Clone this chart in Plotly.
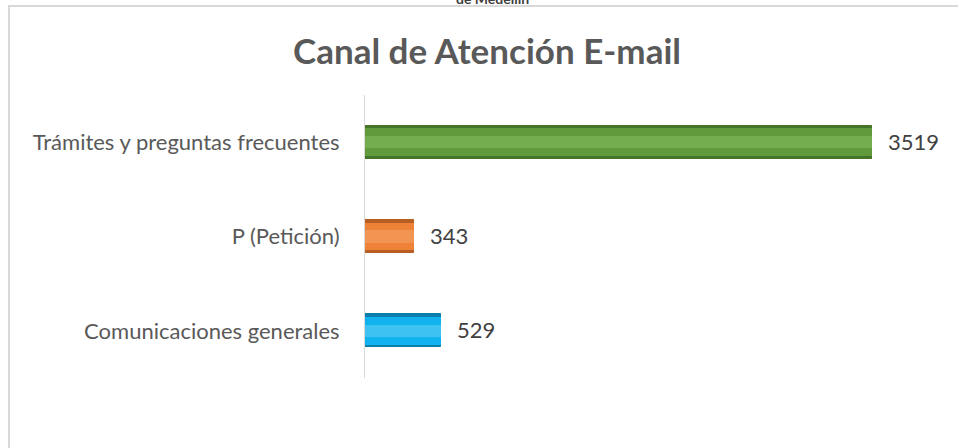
import plotly.graph_objects as go

categories = ["Trámites y preguntas frecuentes", "P (Petición)", "Comunicaciones generales"]
values = [3519, 343, 529]
face_colors = ["#609a3a", "#ee8238", "#12b2ee"]
dark_colors = ["#46752a", "#b85e22", "#0a7fab"]
light_colors = ["#74ad4f", "#f39552", "#3dc2f2"]

FONT = "Lato, Open Sans, sans-serif"
W, H = 958, 448
L, R, T, B = 365, 17, 95, 70

fig = go.Figure()
fig.add_trace(go.Bar(y=categories, x=values, orientation="h", width=0.35,
                     marker=dict(color=dark_colors, line=dict(color=dark_colors, width=1)),
                     hoverinfo="skip", showlegend=False))
fig.add_trace(go.Bar(y=categories, x=values, orientation="h", width=0.29,
                     marker=dict(color=face_colors, line=dict(width=0)),
                     hoverinfo="skip", showlegend=False))
fig.add_trace(go.Bar(y=categories, x=values, orientation="h", width=0.13,
                     marker=dict(color=light_colors, line=dict(width=0)),
                     hoverinfo="skip", showlegend=False))

for c, v in zip(categories, values):
    fig.add_annotation(x=v, y=c, text=str(v), showarrow=False, xanchor="left",
                       xshift=14, yshift=1, font=dict(family=FONT, size=22, color="#404040"))

pw = W - L - R
ph = H - T - B
# chart border (partially outside view)
fig.add_shape(type="rect", xref="paper", yref="paper",
              x0=(9 - L) / pw, x1=(W + 20 - L) / pw,
              y0=-(H + 20 - (T + ph)) / ph, y1=1 + (T - 6) / ph,
              line=dict(color="#d9d9d9", width=2), fillcolor="rgba(0,0,0,0)", layer="below")

fig.add_annotation(xref="paper", yref="paper", x=(492 - L) / pw, y=1 + (T - 9) / ph,
                   text="<b>de Medellín</b>", showarrow=False, xanchor="center", yanchor="bottom",
                   font=dict(family=FONT, size=14, color="#404040"))

fig.update_layout(
    width=W, height=H,
    margin=dict(l=L, r=R, t=T, b=B),
    paper_bgcolor="white", plot_bgcolor="white",
    barmode="overlay", bargap=0,
    title=dict(text="<b>Canal de Atención E-mail</b>", x=487 / W, xanchor="center",
               y=1 - 52 / H, yanchor="middle", yref="container",
               font=dict(family=FONT, size=35, color="#595959")),
    xaxis=dict(range=[0, 4000], showgrid=False, zeroline=False, showticklabels=False,
               showline=False),
    yaxis=dict(autorange="reversed", showgrid=False, zeroline=False, showline=True,
               linecolor="#d9d9d9", linewidth=1, ticks="", ticklabelstandoff=20,
               tickfont=dict(family=FONT, size=22, color="#595959")),
)

fig.write_html("out.html", config={"displayModeBar": False},
               post_script="document.body.style.margin='0';document.body.style.overflow='hidden';")
